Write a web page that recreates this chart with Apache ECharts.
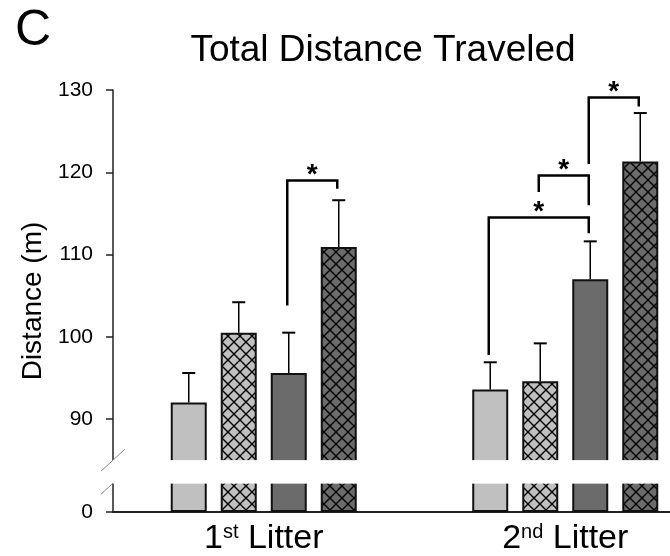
<!DOCTYPE html>
<html>
<head>
<meta charset="utf-8">
<script src="https://cdn.jsdelivr.net/npm/echarts@6/dist/echarts.min.js"></script>
<style>
  html, body { margin: 0; padding: 0; background: #fff; }
  #chart { width: 670px; height: 556px; }
</style>
</head>
<body>
<div id="chart"></div>
<script>
// ---- data ----
const categories = ['1st Litter', '2nd Litter'];
const seriesNames = ['Group A', 'Group B', 'Group C', 'Group D'];
const meansA = [92.0, 93.6];
const meansB = [100.5, 94.6];
const meansC = [95.6, 107.0];
const meansD = [110.9, 121.3];
const semA = [3.6, 3.3];
const semB = [3.7, 4.6];
const semC = [4.9, 4.6];
const semD = [5.7, 5.9];
const yTickLabels = [0, 90, 100, 110, 120, 130];
const yBreak = [3.5, 85];
// significance brackets: [category, fromSeries, toSeries, leftFoot, top, rightFoot]
const brackets = [
  [0, 2, 3, 103.8, 119.0, 118.0],
  [1, 0, 2, 97.8, 114.5, 112.6],
  [1, 1, 2, 117.6, 119.6, 116.0],
  [1, 2, 3, 121.0, 129.1, 128.0]
];
const bracketMark = '*';

// ---- styling ----
const FONT = '"Liberation Sans", Arial, Helvetica, sans-serif';
const BAR_W = 36;
const BAR_GAP = 14;
const LIGHT = '#c0c0c0';
const DARK = '#6b6b6b';
const GRID_LEFT = 113;

function crossHatch(base) {
  const c = document.createElement('canvas');
  c.width = 12; c.height = 12;
  const g = c.getContext('2d');
  g.fillStyle = base;
  g.fillRect(0, 0, 12, 12);
  g.strokeStyle = '#000';
  g.lineWidth = 1.4;
  g.beginPath();
  g.moveTo(-1, -1); g.lineTo(13, 13);
  g.moveTo(13, -1); g.lineTo(-1, 13);
  g.stroke();
  return c;
}

const means = [meansA, meansB, meansC, meansD];
const sems = [semA, semB, semC, semD];
const fills = [
  LIGHT,
  { image: crossHatch(LIGHT), repeat: 'repeat' },
  DARK,
  { image: crossHatch(DARK), repeat: 'repeat' }
];

const barSeries = means.map((vals, i) => ({
  type: 'bar',
  name: seriesNames[i],
  data: vals,
  barWidth: BAR_W,
  barGap: (BAR_GAP / BAR_W * 100).toFixed(1) + '%',
  itemStyle: { color: fills[i], borderColor: '#111', borderWidth: 2 },
  emphasis: { disabled: true },
  z: 2
}));

// error bar rows: [category, series, mean, sem]
const errRows = [];
means.forEach((vals, s) => vals.forEach((m, c) => errRows.push([c, s, m, sems[s][c]])));

function barX(api, cat, s, v) {
  return api.coord([cat, v])[0] + (s - 1.5) * (BAR_W + BAR_GAP);
}

const errorSeries = {
  type: 'custom',
  name: 'SEM',
  data: errRows,
  encode: { x: 0, y: 2 },
  z: 3,
  silent: true,
  renderItem: (params, api) => {
    const c = api.value(0), s = api.value(1), m = api.value(2), e = api.value(3);
    const x = barX(api, c, s, m);
    const y0 = api.coord([c, m])[1];
    const y1 = api.coord([c, m + e])[1];
    return {
      type: 'group',
      children: [
        { type: 'line', shape: { x1: x, y1: y0, x2: x, y2: y1 }, style: { stroke: '#000', lineWidth: 1.5 } },
        { type: 'line', shape: { x1: x - 6.5, y1: y1, x2: x + 6.5, y2: y1 }, style: { stroke: '#000', lineWidth: 2 } }
      ]
    };
  }
};

const bracketSeries = {
  type: 'custom',
  name: 'Significance',
  data: brackets,
  encode: { x: 0, y: 4 },
  z: 4,
  silent: true,
  renderItem: (params, api) => {
    const c = api.value(0), a = api.value(1), b = api.value(2);
    const lf = api.value(3), top = api.value(4), rf = api.value(5);
    const xl = barX(api, c, a, top) - 1.5;
    const xr = barX(api, c, b, top) - 1.5;
    const yl = api.coord([c, lf])[1];
    const yt = api.coord([c, top])[1];
    const yr = api.coord([c, rf])[1];
    return {
      type: 'group',
      children: [
        {
          type: 'polyline',
          shape: { points: [[xl, yl], [xl, yt], [xr, yt], [xr, yr]] },
          style: { stroke: '#000', lineWidth: 2.5, fill: null, lineJoin: 'miter' }
        },
        {
          type: 'text',
          x: (xl + xr) / 2,
          y: yt + 9,
          style: { text: bracketMark, font: 'bold 28px ' + FONT, fill: '#000', align: 'center', verticalAlign: 'bottom' }
        }
      ]
    };
  }
};

const chart = echarts.init(document.getElementById('chart'), null, { renderer: 'canvas' });

chart.setOption({
  animation: false,
  backgroundColor: '#fff',
  textStyle: { fontFamily: FONT },
  grid: { left: GRID_LEFT, width: 603, top: 90, bottom: 44, containLabel: false, outerBoundsMode: 'none' },
  xAxis: {
    type: 'category',
    data: categories,
    axisTick: { show: false },
    axisLine: { lineStyle: { color: '#222', width: 2 } },
    axisLabel: {
      interval: 0,
      hideOverlap: false,
      margin: 10,
      fontSize: 34,
      color: '#000',
      formatter: (v) => {
        const m = v.match(/^(\d+)(\D+?) (.+)$/);
        return m ? '{n|' + m[1] + '}{s|' + m[2] + '}{n| ' + m[3] + '}' : v;
      },
      rich: {
        n: { fontSize: 34, color: '#000', fontFamily: FONT },
        s: { fontSize: 20, color: '#000', fontFamily: FONT, verticalAlign: 'top' }
      }
    }
  },
  yAxis: {
    type: 'value',
    min: 0,
    max: 130,
    interval: 10,
    breaks: [{ start: yBreak[0], end: yBreak[1], gap: 2.8 }],
    breakArea: {
      show: true,
      expandOnClick: false,
      zigzagAmplitude: 0,
      itemStyle: { color: '#fff', borderColor: '#fff', borderWidth: 0, opacity: 1 }
    },
    splitLine: { show: false },
    axisLine: { show: true, lineStyle: { color: '#222', width: 1.5 } },
    axisTick: { show: true, length: 7, customValues: yTickLabels, lineStyle: { color: '#222', width: 1.5 } },
    axisLabel: {
      margin: 20,
      fontSize: 21,
      color: '#000',
      customValues: yTickLabels,
      formatter: (v) => String(v)
    },
    name: 'Distance (m)',
    nameLocation: 'middle',
    nameRotate: 90,
    nameGap: 66,
    nameTextStyle: { fontSize: 28, color: '#000', fontFamily: FONT }
  },
  series: barSeries.concat([errorSeries, bracketSeries])
});

// break gap cover and axis slashes, positioned through the axis scale
const yLow = chart.convertToPixel({ yAxisIndex: 0 }, yBreak[0]);
const yHigh = chart.convertToPixel({ yAxisIndex: 0 }, yBreak[1]);
chart.setOption({
  graphic: [
    {
      type: 'rect', z: 50, silent: true,
      shape: { x: GRID_LEFT - 2, y: yHigh, width: 670 - GRID_LEFT + 2, height: yLow - yHigh },
      style: { fill: '#fff' }
    },
    {
      type: 'line', z: 51, silent: true,
      shape: { x1: GRID_LEFT - 12, y1: yHigh + 11, x2: GRID_LEFT + 12, y2: yHigh - 11 },
      style: { stroke: '#8a8a8a', lineWidth: 1 }
    },
    {
      type: 'line', z: 51, silent: true,
      shape: { x1: GRID_LEFT - 12, y1: yLow + 11, x2: GRID_LEFT + 12, y2: yLow - 11 },
      style: { stroke: '#8a8a8a', lineWidth: 1 }
    },
    {
      type: 'text', z: 60, silent: true,
      x: 33, y: 31,
      style: { text: 'C', font: '50px ' + FONT, fill: '#000', align: 'center', verticalAlign: 'middle' }
    },
    {
      type: 'text', z: 60, silent: true,
      x: 383, y: 51,
      style: { text: 'Total Distance Traveled', font: '37px ' + FONT, fill: '#000', align: 'center', verticalAlign: 'middle' }
    }
  ]
});
</script>
</body>
</html>
